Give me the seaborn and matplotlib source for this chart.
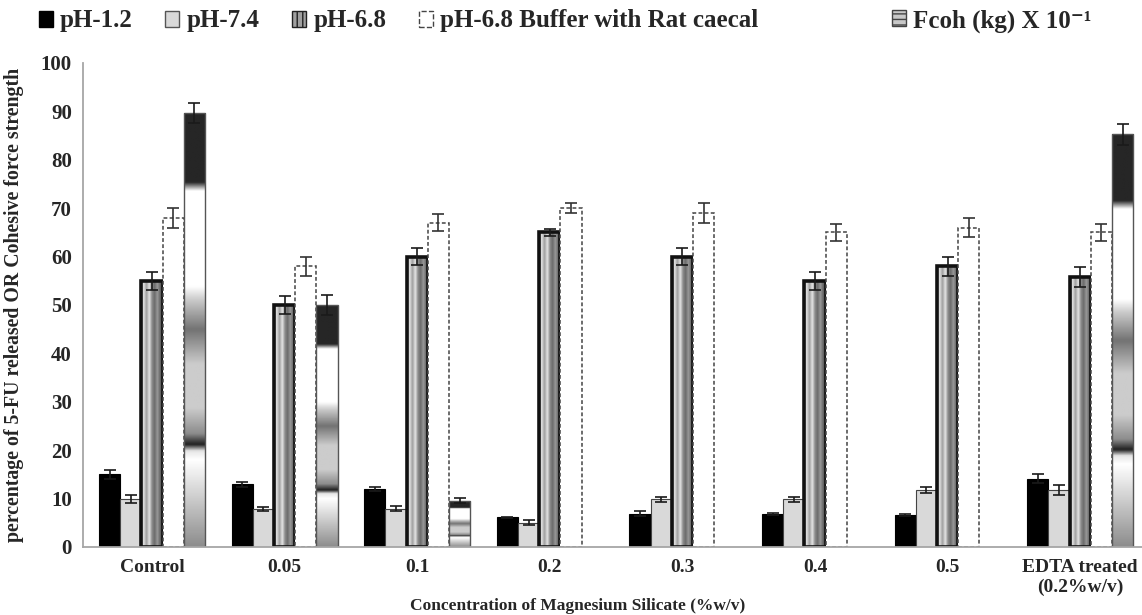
import numpy as np
import pandas as pd
import matplotlib
matplotlib.use("Agg")
import matplotlib.pyplot as plt
from matplotlib.patches import Patch
import seaborn as sns

# ---------------- data ----------------
groups = ["Control", "0.05", "0.1", "0.2", "0.3", "0.4", "0.5", "EDTA treated\n(0.2%w/v)"]
series = ["pH-1.2", "pH-7.4", "pH-6.8", "pH-6.8 Buffer with Rat caecal", "Fcoh (kg) X 10\u207b\u00b9"]

ph12 = [15.0, 13.0, 12.0, 6.1, 6.9, 6.9, 6.6, 14.1]
ph12_err = [1.0, 0.5, 0.5, 0.2, 0.5, 0.2, 0.2, 0.9]
ph74 = [9.9, 7.9, 7.9, 5.0, 9.9, 9.9, 11.8, 11.8]
ph74_err = [0.9, 0.4, 0.5, 0.5, 0.5, 0.5, 0.6, 1.1]
ph68 = [55.0, 50.0, 60.0, 65.0, 60.0, 55.0, 58.0, 55.8]
ph68_err = [1.8, 1.9, 1.8, 0.8, 1.8, 1.8, 2.0, 2.0]
buffer = [68.0, 58.0, 67.0, 70.0, 69.0, 65.0, 66.0, 65.0]
buffer_err = [2.0, 2.0, 1.8, 1.0, 2.0, 1.8, 2.0, 1.8]
fcoh = [89.7, 50.0, 9.6, np.nan, np.nan, np.nan, np.nan, 85.3]
fcoh_err = [2.0, 2.0, 0.6, np.nan, np.nan, np.nan, np.nan, 2.2]

values = [ph12, ph74, ph68, buffer, fcoh]
errors = [ph12_err, ph74_err, ph68_err, buffer_err, fcoh_err]

rows = []
for s, vals, errs in zip(series, values, errors):
    for g, v, e in zip(groups, vals, errs):
        rows.append({"group": g, "series": s, "value": v, "err": e})
df = pd.DataFrame(rows).dropna(subset=["value"])

# ---------------- style ----------------
sns.set_style("white")
plt.rcParams["font.family"] = ["Liberation Serif", "DejaVu Serif"]
plt.rcParams["font.weight"] = "bold"

palette = dict(zip(series, ["#000000", "#d9d9d9", "#a6a6a6", "#ffffff", "#9a9a9a"]))

fig = plt.figure(figsize=(11.42, 6.15), dpi=100)
ax = fig.add_axes([83 / 1142, 68 / 615, 1 - 83 / 1142, 484 / 615])

sns.barplot(data=df, x="group", y="value", hue="series", order=groups,
            hue_order=series, palette=palette, width=0.8, errorbar=None,
            legend=False, saturation=1, ax=ax)

# gradient profiles (style only)
t_v = [0.0, 0.2, 0.22, 0.235, 0.26, 0.32, 0.42, 0.5, 0.57, 0.6, 0.82, 0.84, 1.0]
g_v = [0.55, 1.0, 0.9, 0.12, 0.55, 0.8, 0.8, 0.45, 0.8, 1.0, 1.0, 0.15, 0.15]
vert = np.interp(np.linspace(0, 1, 300), t_v, g_v).reshape(-1, 1)
t_h = [0.0, 0.12, 0.25, 0.38, 0.5, 0.62, 0.75, 0.88, 1.0]
g_h = [0.72, 0.88, 0.62, 0.9, 0.55, 0.42, 0.6, 0.4, 0.3]
horiz = np.interp(np.linspace(0, 1, 100), t_h, g_h).reshape(1, -1)

nh = len(series)
bw = 0.8 / nh
for p in list(ax.patches):
    w = p.get_width()
    h = p.get_height()
    if not np.isfinite(h) or h <= 0:
        continue
    x0 = p.get_x()
    cx = x0 + w / 2
    gi = int(round(cx))
    hi = int(round((cx - gi) / bw + (nh - 1) / 2))
    hi = min(max(hi, 0), nh - 1)
    e = errors[hi][gi]
    ecol = "#1a1a1a"
    if hi == 0:
        p.set_edgecolor("black"); p.set_linewidth(0.8)
    elif hi == 1:
        p.set_edgecolor("#444444"); p.set_linewidth(0.8)
    elif hi == 2:
        p.set_facecolor("none"); p.set_edgecolor("#111111"); p.set_linewidth(2.6)
        im = ax.imshow(horiz, extent=(x0, x0 + w, 0, h), origin="lower", aspect="auto",
                       cmap="gray", vmin=0, vmax=1, interpolation="bilinear", zorder=0.9)
        im.set_clip_path(p)
    elif hi == 3:
        p.set_facecolor("white"); p.set_edgecolor("#444444"); p.set_linewidth(1.1)
        p.set_linestyle((0, (2.5, 1.5)))
        ecol = "#333333"
    else:
        p.set_facecolor("none"); p.set_edgecolor("#555555"); p.set_linewidth(1.0)
        im = ax.imshow(vert, extent=(x0, x0 + w, 0, h), origin="lower", aspect="auto",
                       cmap="gray", vmin=0, vmax=1, interpolation="bilinear", zorder=0.9)
        im.set_clip_path(p)
    if np.isfinite(e):
        ax.errorbar(cx, h, yerr=e, fmt="none", ecolor=ecol, elinewidth=1.2,
                    capsize=4, capthick=1.2, zorder=3)

ax.set_xlim(-0.52, 7.466)
ax.set_ylim(0, 100)
ax.set_yticks(range(0, 101, 10))
for side in ["top", "right"]:
    ax.spines[side].set_visible(False)
for side in ["left", "bottom"]:
    ax.spines[side].set_color("#a6a6a6")
    ax.spines[side].set_linewidth(1.3)
ax.tick_params(axis="y", length=5, color="#a6a6a6", width=1, labelsize=15, pad=3)
ax.tick_params(axis="x", length=0, labelsize=14, pad=9)

ax.set_ylabel("percentage of 5-FU released OR Cohesive force strength", fontsize=14.3,
              fontweight="bold")
ax.yaxis.set_label_coords(-0.056, 0.5)
ax.set_xlabel("Concentration of Magnesium Silicate (%w/v)", fontsize=12.5, fontweight="bold")
ax.xaxis.set_label_coords(0.467, -0.106)

# ---------------- legends ----------------
handles = [
    Patch(facecolor="black", edgecolor="black"),
    Patch(facecolor="#d9d9d9", edgecolor="#555555"),
    Patch(facecolor="#a0a0a0", edgecolor="#222222", hatch="|||", linewidth=1),
    Patch(facecolor="white", edgecolor="#444444", linestyle="--", linewidth=1),
    Patch(facecolor="#c8c8c8", edgecolor="#444444", hatch="---", linewidth=1),
]
leg_kw = dict(frameon=False, handlelength=0.55, handleheight=0.6, handletextpad=0.3,
              borderpad=0, borderaxespad=0, prop={"size": 18, "weight": "bold"})
leg1 = fig.legend(handles[:4], series[:4], loc="center left", bbox_to_anchor=(0.034, 0.966),
                  ncol=4, columnspacing=1.3, **leg_kw)
leg2 = fig.legend(handles[4:], series[4:], loc="center left", bbox_to_anchor=(0.781, 0.966),
                  ncol=1, **leg_kw)

fig.savefig("out.png", dpi=100)
